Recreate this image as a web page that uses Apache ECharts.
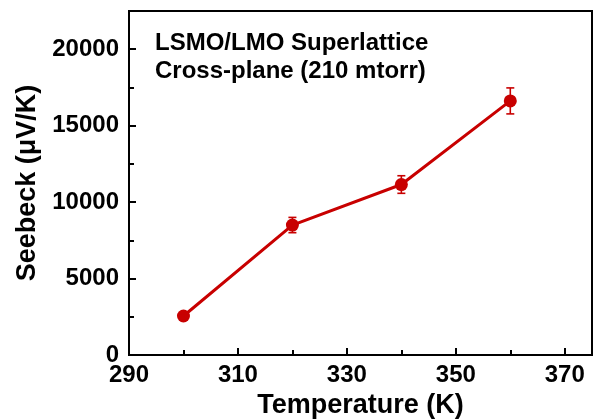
<!DOCTYPE html>
<html>
<head>
<meta charset="utf-8">
<script src="https://cdn.jsdelivr.net/npm/echarts@6/dist/echarts.min.js"></script>
<style>
html,body{margin:0;padding:0;background:#fff;}
#chart{width:597px;height:420px;}
</style>
</head>
<body>
<div id="chart"></div>
<script>
// ---- data ----
var temps = [300, 320, 340, 360];
var seebeck = [2550, 8500, 11150, 16620];
var errors = [150, 500, 575, 850];

var xMajorTicks = [290, 310, 330, 350, 370];
var xMinorTicks = [300, 320, 340, 360];
var yMajorTicks = [0, 5000, 10000, 15000, 20000];
var yMinorTicks = [2500, 7500, 12500, 17500];

var titleLines = ['LSMO/LMO Superlattice', 'Cross-plane (210 mtorr)'];
var xName = 'Temperature (K)';
var yName = 'Seebeck (\u03bcV/K)';

var RED = '#c80000';
var FONT = 'Liberation Sans, Arial, Helvetica, sans-serif';

var lineData = temps.map(function (t, i) { return [t, seebeck[i]]; });
var errData = temps.map(function (t, i) { return [t, seebeck[i], errors[i]]; });

var chart = echarts.init(document.getElementById('chart'), null, {renderer: 'canvas'});

function axisCommon(extra) {
  return Object.assign({
    type: 'value',
    splitLine: {show: false}
  }, extra);
}
function plain(v) { return String(v); }

var option = {
  animation: false,
  backgroundColor: '#fff',
  grid: {left: 129, right: 5, top: 11, bottom: 65, show: true, borderColor: '#000', borderWidth: 2,
         backgroundColor: 'transparent', containLabel: false, outerBoundsMode: 'none'},
  graphic: [
    {type: 'text', left: 155, top: 31, style: {text: titleLines[0], font: 'bold 24px ' + FONT, fill: '#000'}},
    {type: 'text', left: 155, top: 59, style: {text: titleLines[1], font: 'bold 24px ' + FONT, fill: '#000'}}
  ],
  xAxis: [
    axisCommon({
      min: 290, max: 375, position: 'bottom',
      name: xName, nameLocation: 'middle', nameGap: 36,
      nameTextStyle: {fontSize: 27, fontWeight: 'bold', color: '#000', fontFamily: FONT},
      axisLine: {show: true, lineStyle: {color: '#000', width: 2}},
      axisTick: {show: true, inside: true, length: 7, lineStyle: {color: '#000', width: 2}, customValues: xMajorTicks},
      axisLabel: {show: true, margin: 8, fontSize: 24, fontWeight: 'bold', color: '#000', fontFamily: FONT, customValues: xMajorTicks, formatter: plain}
    }),
    axisCommon({
      min: 290, max: 375, position: 'bottom',
      axisLine: {show: false},
      axisTick: {show: true, inside: true, length: 5, lineStyle: {color: '#000', width: 2}, customValues: xMinorTicks},
      axisLabel: {show: false}
    })
  ],
  yAxis: [
    axisCommon({
      min: 0, max: 22500, position: 'left',
      name: yName, nameLocation: 'middle', nameGap: 84,
      nameTextStyle: {fontSize: 27, fontWeight: 'bold', color: '#000', fontFamily: FONT},
      axisLine: {show: true, lineStyle: {color: '#000', width: 2}},
      axisTick: {show: true, inside: true, length: 7, lineStyle: {color: '#000', width: 2}, customValues: yMajorTicks},
      axisLabel: {show: true, margin: 10, fontSize: 24, fontWeight: 'bold', color: '#000', fontFamily: FONT, customValues: yMajorTicks, formatter: plain}
    }),
    axisCommon({
      min: 0, max: 22500, position: 'left',
      axisLine: {show: false},
      axisTick: {show: true, inside: true, length: 5, lineStyle: {color: '#000', width: 2}, customValues: yMinorTicks},
      axisLabel: {show: false}
    })
  ],
  series: [
    {
      type: 'line',
      xAxisIndex: 0, yAxisIndex: 0,
      data: lineData,
      symbol: 'circle',
      symbolSize: 13,
      lineStyle: {color: RED, width: 3},
      itemStyle: {color: RED},
      z: 2
    },
    {
      type: 'custom',
      xAxisIndex: 0, yAxisIndex: 0,
      data: errData,
      z: 3,
      renderItem: function (params, api) {
        var x = api.value(0), y = api.value(1), e = api.value(2);
        var top = api.coord([x, y + e]);
        var bot = api.coord([x, y - e]);
        var hw = 4;
        var st = {stroke: RED, lineWidth: 1.6};
        return {
          type: 'group',
          children: [
            {type: 'line', shape: {x1: top[0], y1: top[1], x2: bot[0], y2: bot[1]}, style: st},
            {type: 'line', shape: {x1: top[0] - hw, y1: top[1], x2: top[0] + hw, y2: top[1]}, style: st},
            {type: 'line', shape: {x1: bot[0] - hw, y1: bot[1], x2: bot[0] + hw, y2: bot[1]}, style: st}
          ]
        };
      }
    }
  ]
};

chart.setOption(option);
</script>
</body>
</html>
